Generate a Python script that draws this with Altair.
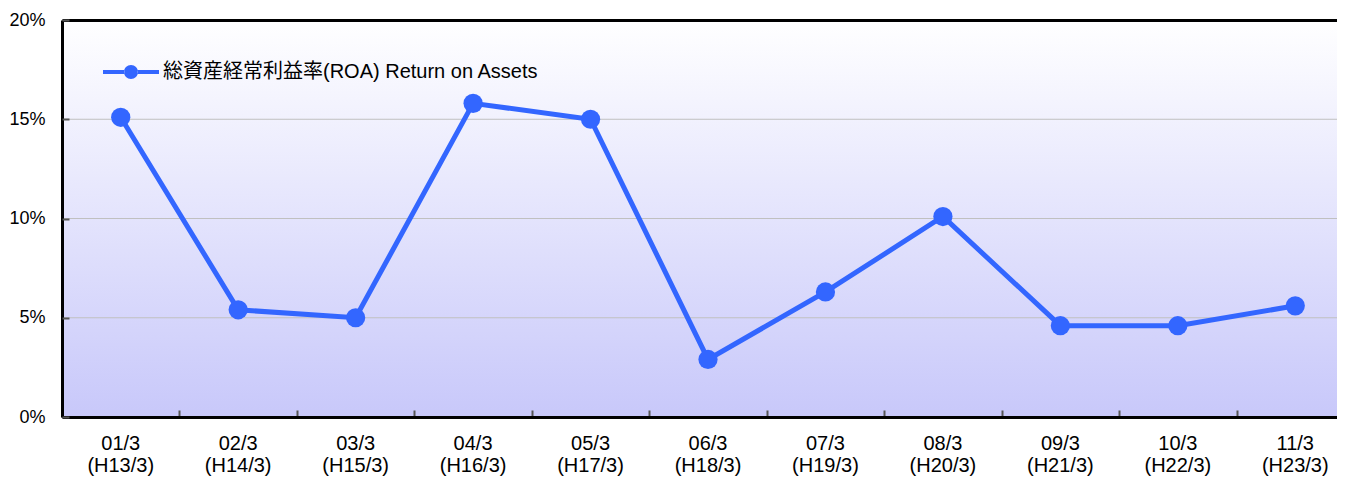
import altair as alt
import pandas as pd

# ---- data ----
periods = ["01/3|(H13/3)", "02/3|(H14/3)", "03/3|(H15/3)", "04/3|(H16/3)",
           "05/3|(H17/3)", "06/3|(H18/3)", "07/3|(H19/3)", "08/3|(H20/3)",
           "09/3|(H21/3)", "10/3|(H22/3)", "11/3|(H23/3)"]
roa = [15.1, 5.4, 5.0, 15.8, 15.0, 2.9, 6.3, 10.1, 4.6, 4.6, 5.6]
series_name = "総資産経常利益率(ROA) Return on Assets"
y_ticks = [0, 5, 10, 15, 20]
grid_values = [5, 10, 15]

df = pd.DataFrame({"period": periods, "roa": roa, "series": [series_name] * len(periods)})
grid_df = pd.DataFrame({"g": grid_values})
bg = pd.DataFrame({"k": [0]})

W = 1275
H = 397
RANGE_W = 1292
FONT = "Liberation Sans, Arial, Noto Sans CJK JP"
BLUE = "#3366ff"

xscale = alt.Scale(type="band", domain=periods, range=[0, RANGE_W], paddingInner=0, paddingOuter=0)
yscale = alt.Scale(domain=[0, 20], nice=False, zero=True)

legend_path = ("M-1,-0.07L-0.24,-0.07L-0.24,0.07L-1,0.07Z "
               "M0.24,-0.07L1,-0.07L1,0.07L0.24,0.07Z "
               "M-0.25,0A0.25,0.25 0 1,0 0.25,0A0.25,0.25 0 1,0 -0.25,0Z")

gradient = alt.LinearGradient(
    gradient="linear",
    stops=[alt.GradientStop(color="#ffffff", offset=0),
           alt.GradientStop(color="#c8c8fa", offset=1)],
    x1=0, x2=0, y1=0, y2=1,
)

background = alt.Chart(bg).mark_rect(color=gradient).encode(
    x=alt.value(0), x2=alt.value(W + 20), y=alt.value(0), y2=alt.value(H)
)

grid = alt.Chart(grid_df).mark_rule(color="#c0c0c0", strokeWidth=1).encode(
    y=alt.Y("g:Q", scale=yscale, axis=None)
)

tick_layer = alt.Chart(df).mark_point(opacity=0).encode(
    x=alt.X("period:N", scale=xscale, sort=periods, bandPosition=0.5, title=None,
            axis=alt.Axis(orient="top", offset=-H, labels=False, domain=False, grid=False,
                          ticks=True, tickBand="extent", tickSize=7, tickColor="#555555",
                          tickWidth=2, zindex=1)),
    y=alt.Y("roa:Q", scale=yscale, axis=None),
)

line = alt.Chart(df).mark_line(color=BLUE, strokeWidth=5).encode(
    x=alt.X("period:N", scale=xscale, sort=periods, bandPosition=0.5, title=None,
            axis=alt.Axis(orient="bottom", labelExpr="split(datum.label, '|')", labelAngle=0,
                          labelFont=FONT, labelFontSize=20, labelColor="black",
                          labelLineHeight=22, labelPadding=16, ticks=False,
                          domain=True, domainColor="black", domainWidth=3, grid=False,
                          zindex=1)),
    y=alt.Y("roa:Q", scale=yscale, title=None,
            axis=alt.Axis(orient="left", values=y_ticks, labelExpr="datum.value + '%'",
                          labelFont=FONT, labelFontSize=18, labelColor="black",
                          labelPadding=17, ticks=False, domainColor="black",
                          domainWidth=3, grid=False, zindex=1)),
)

points = alt.Chart(df).mark_point(filled=True, size=370, opacity=1).encode(
    x=alt.X("period:N", scale=xscale, sort=periods, bandPosition=0.5, title=None,
            axis=alt.Axis(orient="top", labels=False, ticks=False, grid=False,
                          domainColor="black", domainWidth=3, zindex=1)),
    y=alt.Y("roa:Q", scale=yscale, title=None,
            axis=alt.Axis(orient="right", offset=-W, values=y_ticks, labels=False,
                          domain=False, grid=False, ticks=True, tickSize=7,
                          tickColor="#555555", tickWidth=2, zindex=1)),
    color=alt.Color("series:N", scale=alt.Scale(range=[BLUE]),
                    legend=alt.Legend(orient="none", legendX=41, legendY=24, title=None,
                                      symbolType=legend_path, symbolSize=3136,
                                      symbolStrokeWidth=0, labelFont=FONT,
                                      labelFontSize=20, labelColor="black",
                                      labelOffset=4, labelLimit=0, padding=0)),
)

chart = alt.layer(background, grid, tick_layer, line, points).resolve_axis(
    x="independent", y="independent"
).properties(
    width=W, height=H,
    autosize=alt.AutoSizeParams(type="none"),
    padding={"left": 54, "top": 12, "right": 0, "bottom": 60},
).configure_view(stroke=None)

chart.save("out.html", embed_options={"renderer": "svg", "actions": False})
